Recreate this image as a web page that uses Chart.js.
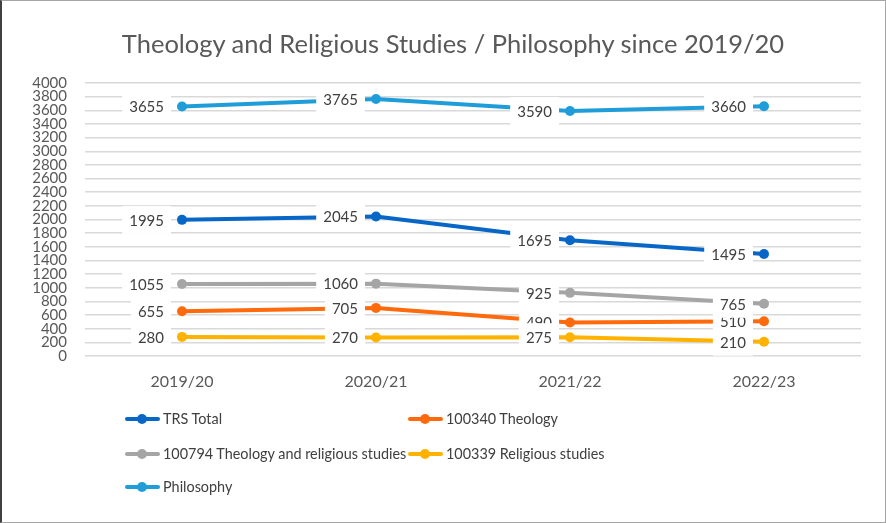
<!DOCTYPE html>
<html>
<head>
<meta charset="utf-8">
<script src="https://cdn.jsdelivr.net/npm/chart.js@4"></script>
<style>
    html, body { margin: 0; padding: 0; background: #fff; }
    #wrap { position: relative; width: 886px; height: 523px; box-sizing: border-box;
            border: 1px solid #a6a6a6; border-left: 2px solid #404040; }
    #title { position: absolute; left: 40px; top: 27px; width: 822px; text-align: center;
             font-family: Lato, sans-serif; font-size: 25.5px; line-height: 30.6px; color: #595959; }
    #legend { position: absolute; left: 0; top: 0; font-family: Lato, sans-serif; font-size: 14.4px; color: #404040; }
    .item { position: absolute; height: 20px; line-height: 20px; white-space: nowrap; }
    .item .swatch { position: absolute; left: 0; top: 8px; width: 35px; height: 4px; border-radius: 2px; }
    .item .dot { position: absolute; left: 12px; top: 5px; width: 10px; height: 10px; border-radius: 5px; }
    .item span.txt { position: absolute; left: 38px; top: 0; }
</style>
</head>
<body>
<div id="wrap">
    <canvas id="chart" width="883" height="521"></canvas>
    <div id="title">Theology and Religious Studies / Philosophy since 2019/20</div>
    <div id="legend"></div>
</div>
<script>
var categories = ['2019/20', '2020/21', '2021/22', '2022/23'];

var trsTotal = [1995, 2045, 1695, 1495];
var theology = [655, 705, 490, 510];
var theologyRs = [1055, 1060, 925, 765];
var religiousStudies = [280, 270, 275, 210];
var philosophy = [3655, 3765, 3590, 3660];

var seriesNames = ['TRS Total', '100340 Theology', '100794 Theology and religious studies', '100339 Religious studies', 'Philosophy'];
var seriesColors = ['#0866c6', '#ff6a0d', '#a5a5a5', '#ffb300', '#1f9dd9'];
var seriesData = [trsTotal, theology, theologyRs, religiousStudies, philosophy];

var textColor = '#595959';
var fontFamily = 'Lato, sans-serif';

/* Data labels: left of each point, white box behind */
var valueLabels = {
    id: 'valueLabels',
    afterDatasetsDraw: function(chart) {
        var ctx = chart.ctx;
        ctx.save();
        ctx.font = '15px ' + fontFamily;
        ctx.textBaseline = 'middle';
        ctx.textAlign = 'right';
        chart.data.datasets.forEach(function(ds, i) {
            var meta = chart.getDatasetMeta(i);
            meta.data.forEach(function(pt, j) {
                var txt = String(ds.data[j]);
                var w = ctx.measureText(txt).width;
                var right = pt.x - 11;
                ctx.fillStyle = '#ffffff';
                ctx.fillRect(right - w - 14, pt.y - 14, w + 14, 28);
                ctx.fillStyle = '#404040';
                ctx.fillText(txt, right - 7, pt.y + 1);
            });
        });
        ctx.restore();
    }
};

var datasets = seriesData.map(function(d, i) {
    return {
        label: seriesNames[i],
        data: d,
        borderColor: seriesColors[i],
        backgroundColor: seriesColors[i],
        borderWidth: 4,
        pointRadius: 5,
        pointHoverRadius: 5,
        pointBorderWidth: 0,
        tension: 0
    };
});

var chart = new Chart(document.getElementById('chart').getContext('2d'), {
    type: 'line',
    data: { labels: categories, datasets: datasets },
    plugins: [valueLabels],
    options: {
        responsive: false,
        animation: false,
        layout: { padding: { left: 0, right: 24, top: 82, bottom: 132 } },
        plugins: {
            legend: { display: false },
            tooltip: { enabled: false },
            title: { display: false }
        },
        scales: {
            x: {
                offset: true,
                grid: { display: false, drawTicks: false },
                border: { display: false },
                ticks: { color: textColor, padding: 16, font: { family: fontFamily, size: 16 } },
                afterFit: function(scale) { scale.height = 34; }
            },
            y: {
                min: 0,
                max: 4000,
                grid: { color: '#d9d9d9', lineWidth: 1.5, drawTicks: false },
                border: { display: false },
                ticks: {
                    stepSize: 200, autoSkip: false, color: textColor, padding: 18,
                    font: { family: fontFamily, size: 15, lineHeight: 1 },
                    callback: function(v) { return String(v); }
                },
                afterFit: function(scale) { scale.width = 83; }
            }
        }
    }
});

/* Legend in two columns, built from the datasets */
var legendPos = [[123, 408], [406, 408], [123, 443], [406, 443], [123, 476]];
var legend = document.getElementById('legend');
chart.data.datasets.forEach(function(ds, i) {
    var el = document.createElement('div');
    el.className = 'item';
    el.style.left = legendPos[i][0] + 'px';
    el.style.top = legendPos[i][1] + 'px';
    el.innerHTML = '<div class="swatch" style="background:' + ds.borderColor + '"></div>' +
                   '<div class="dot" style="background:' + ds.borderColor + '"></div>' +
                   '<span class="txt">' + ds.label + '</span>';
    legend.appendChild(el);
});
</script>
</body>
</html>
